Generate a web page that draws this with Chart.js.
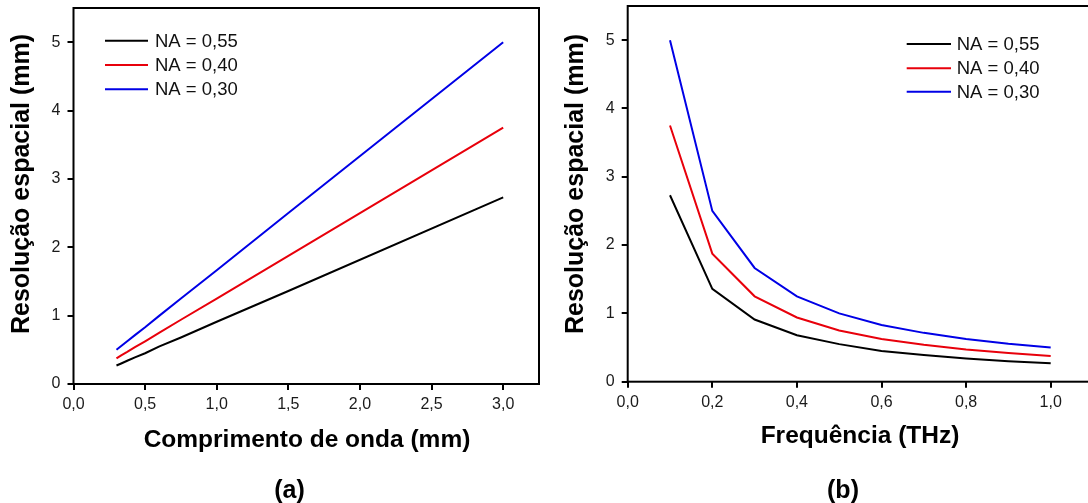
<!DOCTYPE html>
<html>
<head>
<meta charset="utf-8">
<script src="https://cdn.jsdelivr.net/npm/chart.js@4.4.1/dist/chart.umd.min.js"></script>
<style>
  html, body { margin: 0; padding: 0; background: #fff; overflow: hidden; width: 1088px; height: 503px; }
  #wa { position: absolute; left: 0; top: 0; width: 544px; height: 503px; }
  #wb { position: absolute; left: 544px; top: 0; width: 560px; height: 503px; }
</style>
</head>
<body>
<div id="wa"><canvas id="ca" width="544" height="503"></canvas></div>
<div id="wb"><canvas id="cb" width="560" height="503"></canvas></div>
<script>
// ---------- data ----------
const seriesLabels = ['NA = 0,55', 'NA = 0,40', 'NA = 0,30'];
const seriesColors = ['#000000', '#e8000b', '#0000e6'];

// (a) wavelength (mm) vs spatial resolution (mm)
const lambdaA = [0.3, 0.333, 0.375, 0.429, 0.5, 0.6, 0.75, 1.0, 1.5, 3.0];
const resA055 = [0.27, 0.30, 0.34, 0.39, 0.45, 0.55, 0.68, 0.91, 1.36, 2.73];
const resA040 = [0.375, 0.42, 0.47, 0.54, 0.625, 0.75, 0.94, 1.25, 1.875, 3.75];
const resA030 = [0.5, 0.555, 0.625, 0.715, 0.83, 1.0, 1.25, 1.665, 2.5, 5.0];

// (b) frequency (THz) vs spatial resolution (mm)
const freqB = [0.1, 0.2, 0.3, 0.4, 0.5, 0.6, 0.7, 0.8, 0.9, 1.0];
const resB055 = [2.73, 1.36, 0.91, 0.68, 0.55, 0.45, 0.39, 0.34, 0.30, 0.27];
const resB040 = [3.75, 1.875, 1.25, 0.94, 0.75, 0.625, 0.54, 0.47, 0.42, 0.375];
const resB030 = [5.0, 2.5, 1.665, 1.25, 1.0, 0.83, 0.715, 0.625, 0.555, 0.5];

// tick labels
const xTickLabelsA = ['0,0', '0,5', '1,0', '1,5', '2,0', '2,5', '3,0'];
const xTickLabelsB = ['0,0', '0,2', '0,4', '0,6', '0,8', '1,0'];
const yTickLabels = ['0', '1', '2', '3', '4', '5'];

// texts
const yTitle = 'Resolução espacial (mm)';
const xTitleA = 'Comprimento de onda (mm)';
const xTitleB = 'Frequência (THz)';
const panelA = '(a)';
const panelB = '(b)';

// ---------- helpers ----------
const FONT = 'Arial, "Liberation Sans", Helvetica, sans-serif';

function pts(xs, ys) { return xs.map((x, i) => ({ x: x, y: ys[i] })); }

function makeDatasets(xs, arrs) {
  return arrs.map((ys, i) => ({
    label: seriesLabels[i],
    data: pts(xs, ys),
    borderColor: seriesColors[i],
    backgroundColor: seriesColors[i],
    borderWidth: 2,
    pointRadius: 0,
    tension: 0,
    fill: false
  }));
}

const textPlugin = {
  id: 'texts',
  afterDraw(chart, args, o) {
    const ctx = chart.ctx;
    const ca = chart.chartArea;
    ctx.save();
    // frame
    ctx.strokeStyle = '#000';
    ctx.lineWidth = 2;
    ctx.strokeRect(ca.left, ca.top, ca.right - ca.left, ca.bottom - ca.top);
    ctx.fillStyle = '#000';
    ctx.textBaseline = 'middle';
    ctx.textAlign = 'center';
    // y title
    ctx.save();
    ctx.translate(o.yTitle.x, o.yTitle.y);
    ctx.rotate(-Math.PI / 2);
    ctx.font = 'bold ' + o.yTitle.size + 'px ' + FONT;
    ctx.fillText(o.yTitle.text, 0, 0);
    ctx.restore();
    // x title
    ctx.font = 'bold ' + o.xTitle.size + 'px ' + FONT;
    ctx.fillText(o.xTitle.text, o.xTitle.x, o.xTitle.y);
    // panel label
    ctx.font = 'bold ' + o.panel.size + 'px ' + FONT;
    ctx.fillText(o.panel.text, o.panel.x, o.panel.y);
    // legend
    const lg = o.legend;
    ctx.textAlign = 'left';
    ctx.font = lg.size + 'px ' + FONT;
    chart.data.datasets.forEach((ds, i) => {
      const y = lg.ys[i];
      ctx.strokeStyle = ds.borderColor;
      ctx.lineWidth = 2;
      ctx.beginPath();
      ctx.moveTo(lg.x0, y);
      ctx.lineTo(lg.x1, y);
      ctx.stroke();
      ctx.fillStyle = '#111';
      ctx.fillText(ds.label, lg.xText, y + 1);
    });
    ctx.restore();
  }
};

function makeChart(id, datasets, xOpts, layout, textOpts) {
  return new Chart(document.getElementById(id), {
    type: 'line',
    data: { datasets: datasets },
    plugins: [textPlugin],
    options: {
      responsive: false,
      animation: false,
      devicePixelRatio: 1,
      layout: { padding: layout.padding },
      plugins: {
        legend: { display: false },
        tooltip: { enabled: false },
        texts: textOpts
      },
      scales: {
        x: {
          type: 'linear',
          min: 0,
          max: xOpts.max,
          afterFit: (s) => {
            s.height = layout.xHeight;
            s.paddingLeft = 0; s.paddingRight = 0; s.paddingTop = 0; s.paddingBottom = 0;
          },
          border: { display: false },
          grid: { display: true, drawOnChartArea: false, drawTicks: true, tickLength: 6, color: '#000', lineWidth: 2 },
          ticks: {
            stepSize: xOpts.step,
            includeBounds: false,
            autoSkip: false,
            maxRotation: 0,
            padding: 5,
            color: '#1a1a1a',
            font: { family: FONT, size: 16 },
            callback: (v, i) => xOpts.labels[i]
          }
        },
        y: {
          type: 'linear',
          min: 0,
          max: 5.5,
          afterFit: (s) => {
            s.width = layout.yWidth;
            s.paddingLeft = 0; s.paddingRight = 0; s.paddingTop = 0; s.paddingBottom = 0;
          },
          border: { display: false },
          grid: { display: true, drawOnChartArea: false, drawTicks: true, tickLength: 6, color: '#000', lineWidth: 2 },
          ticks: {
            stepSize: 1,
            includeBounds: false,
            padding: 7,
            color: '#1a1a1a',
            font: { family: FONT, size: 16 },
            callback: (v, i) => yTickLabels[i]
          }
        }
      }
    }
  });
}

makeChart('ca',
  makeDatasets(lambdaA, [resA055, resA040, resA030]),
  { max: 3.25, step: 0.5, labels: xTickLabelsA },
  { padding: { left: 0, top: 8, right: 5, bottom: 0 }, yWidth: 73.5, xHeight: 119 },
  {
    yTitle: { text: yTitle, x: 22.5, y: 184, size: 25 },
    xTitle: { text: xTitleA, x: 307, y: 440, size: 24.5 },
    panel: { text: panelA, x: 289.5, y: 491, size: 25 },
    legend: { x0: 105, x1: 148, xText: 155, ys: [40.7, 65, 89.3], size: 18.5 }
  }
);

makeChart('cb',
  makeDatasets(freqB, [resB055, resB040, resB030]),
  { max: 1.1, step: 0.2, labels: xTickLabelsB },
  { padding: { left: 0, top: 6, right: 11, bottom: 0 }, yWidth: 83.7, xHeight: 121.3 },
  {
    yTitle: { text: yTitle, x: 32, y: 184, size: 25 },
    xTitle: { text: xTitleB, x: 316, y: 436, size: 24.5 },
    panel: { text: panelB, x: 299, y: 491, size: 25 },
    legend: { x0: 362.7, x1: 407, xText: 412.7, ys: [44, 68.3, 91.7], size: 18.5 }
  }
);
</script>
</body>
</html>
